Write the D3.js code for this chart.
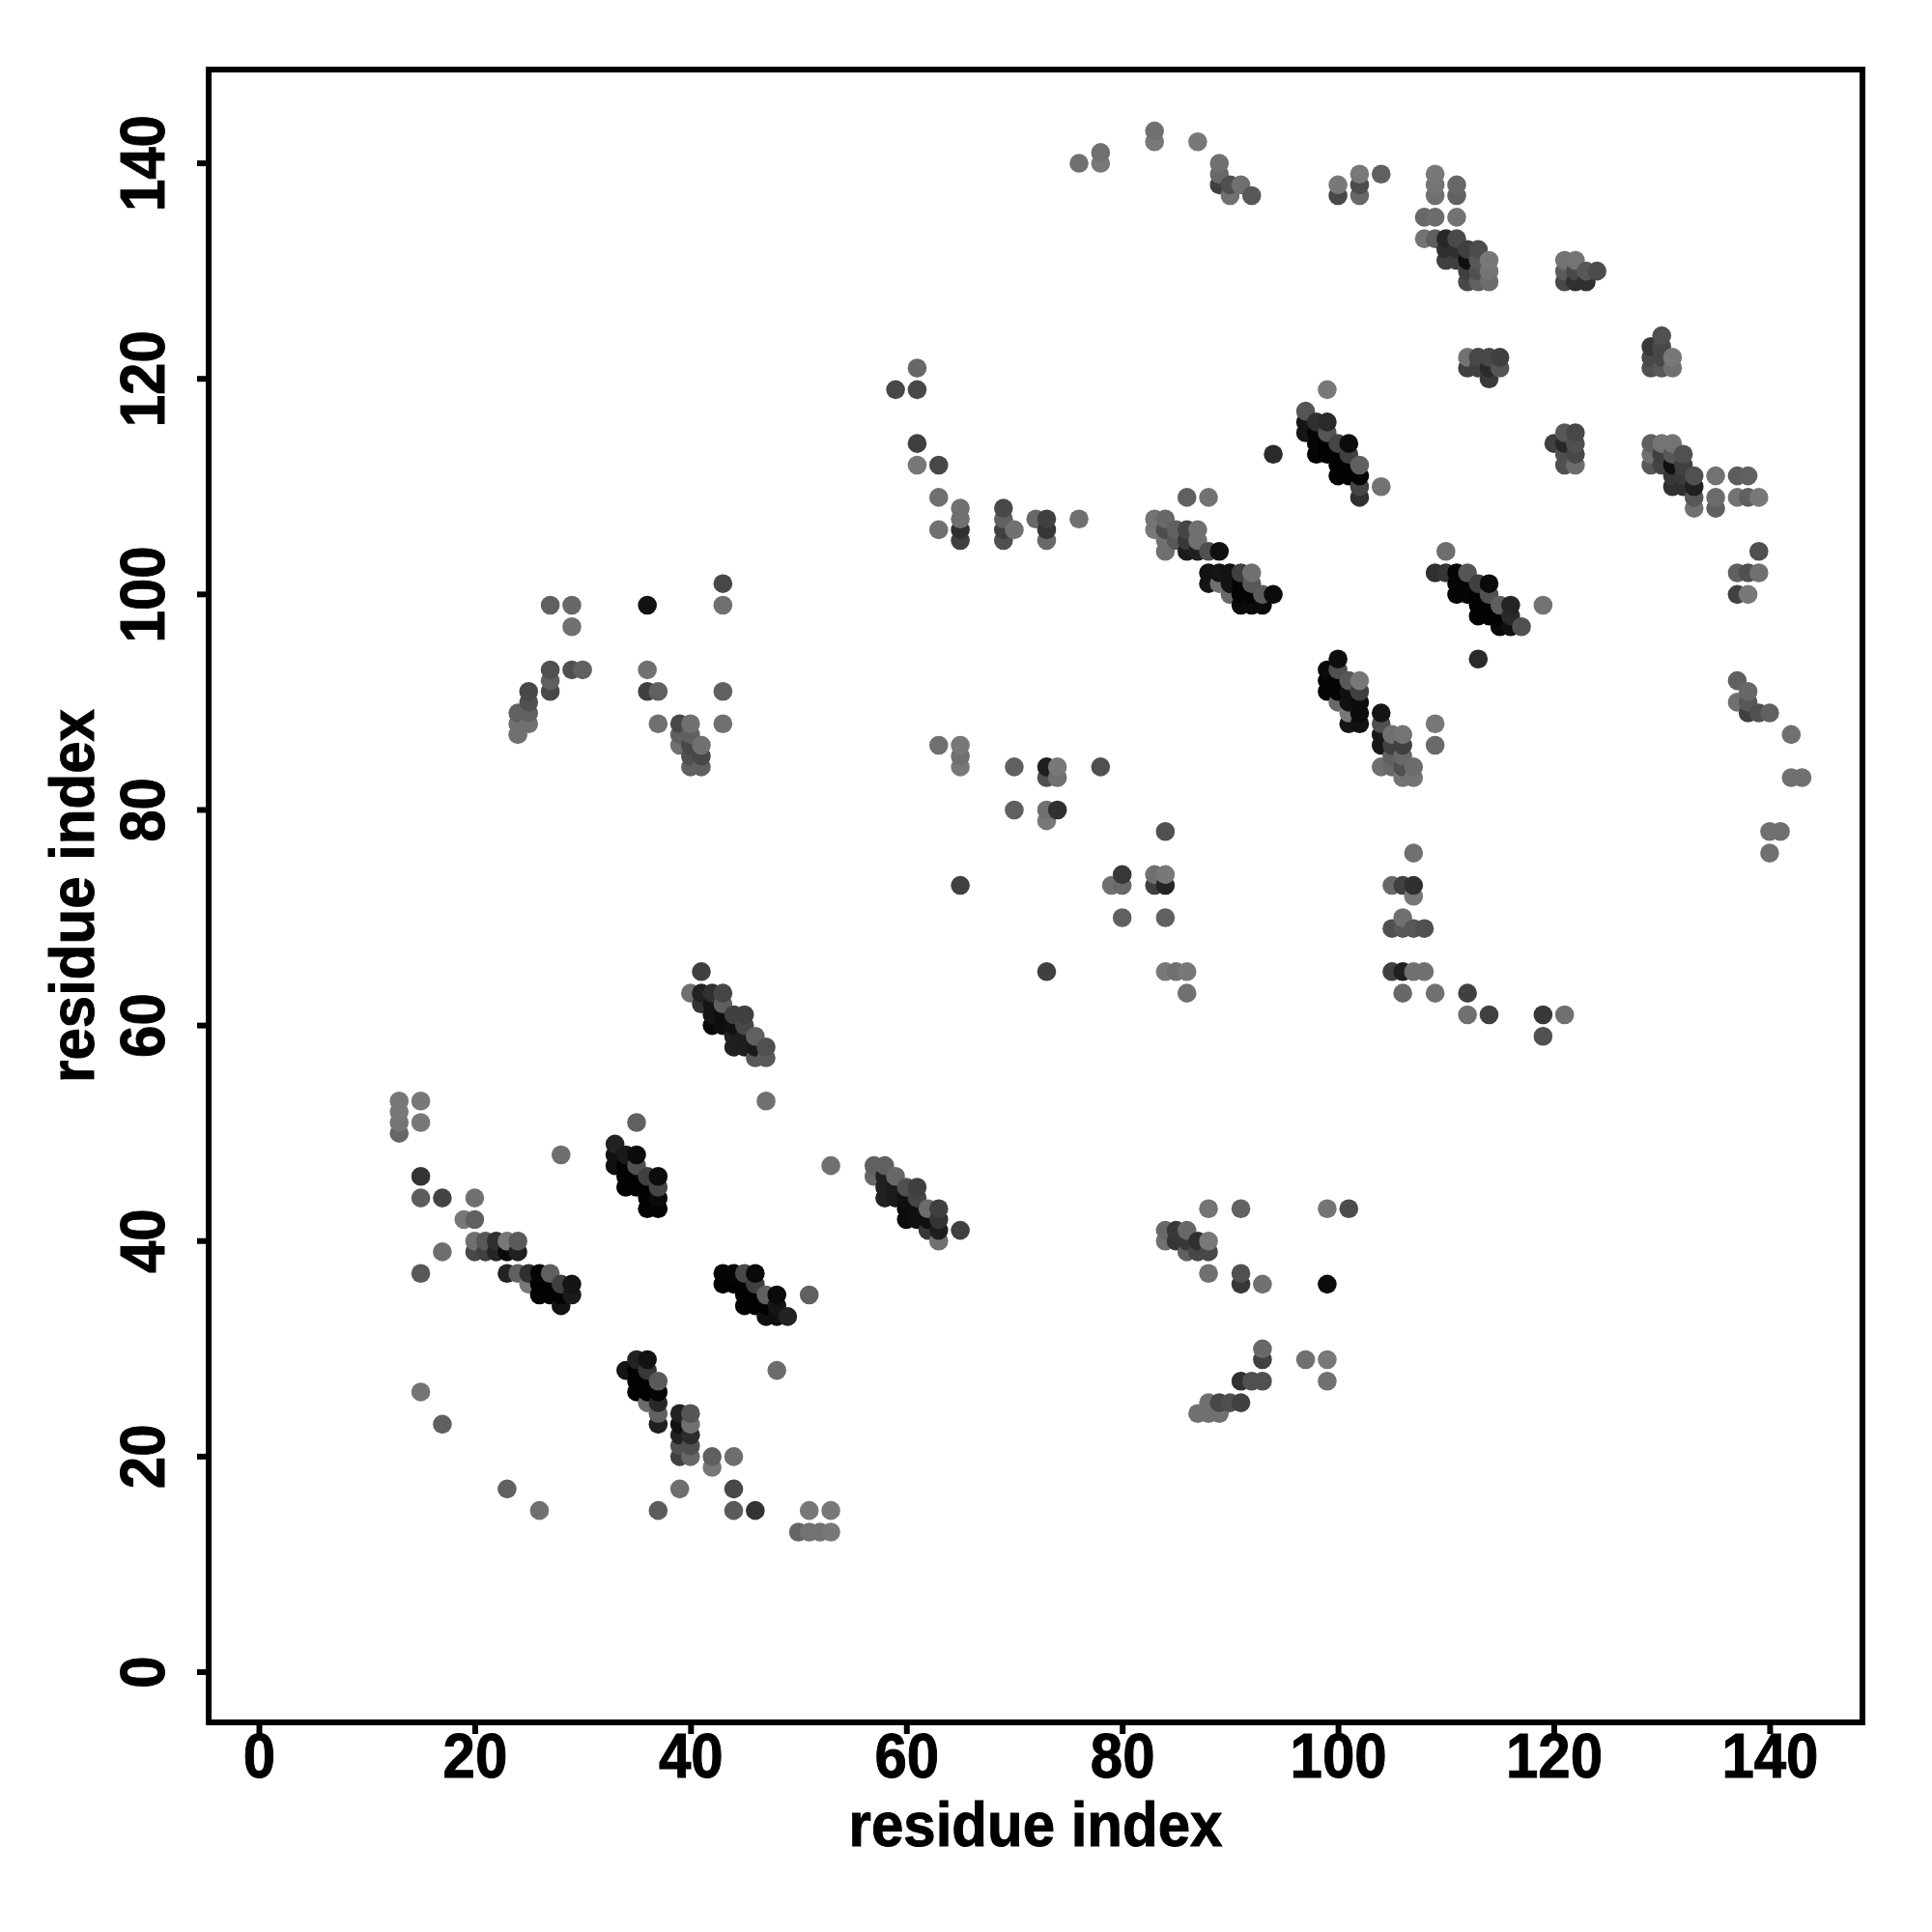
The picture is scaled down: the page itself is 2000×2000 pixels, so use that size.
<!DOCTYPE html>
<html><head><meta charset="utf-8">
<script src="https://cdnjs.cloudflare.com/ajax/libs/d3/7.8.5/d3.min.js"></script>
<style>html,body{margin:0;background:#fff}svg{display:block}</style></head>
<body><svg id="c" width="2000" height="2000"></svg>
<script>
const xTicks=[0,20,40,60,80,100,120,140];
const yTicks=[0,20,40,60,80,100,120,140];
const xLabel="residue index", yLabel="residue index";
// each row: residue i, residue j, grey level of the contact
const lowerLeft=[
[13,53,0x78],[13,52,0x78],[13,51,0x74],[13,50,0x66],[15,53,0x78],[15,51,0x78],[15,46,0x33],[15,44,0x5c],[15,37,0x58],[15,26,0x74],
[17,44,0x44],[17,39,0x6e],[17,23,0x60],[19,42,0x78],[20,44,0x70],[20,42,0x60],[20,40,0x70],[20,39,0x48],[21,40,0x58],[21,39,0x40],
[22,40,0x30],[22,39,0x25],[23,40,0x78],[23,39,0x0a],[23,37,0x22],[23,17,0x60],[24,40,0x5a],[24,39,0x20],[24,37,0x60],[25,37,0x30],[25,36,0x78],
[26,37,0x05],[26,36,0x02],[26,35,0x02],[26,15,0x70],[27,37,0x60],[27,36,0x02],[27,35,0x02],[28,48,0x6e],[28,36,0x40],[28,35,0x02],[28,34,0x12],[29,36,0x15],[29,35,0x1a]
];
const helixBlock=[
[33,49,0x22],[33,48,0x11],[33,47,0x11],[34,48,0x1a],[34,47,0x02],[34,46,0x02],[34,45,0x02],[35,51,0x60],[35,48,0x0c],[35,47,0x50],[35,46,0x02],[35,45,0x02],
[36,46,0x40],[36,45,0x02],[36,44,0x02],[36,43,0x05],[37,46,0x0c],[37,45,0x45],[37,44,0x0a],[37,43,0x05],
[34,28,0x14],[35,29,0x22],[35,28,0x02],[35,27,0x02],[35,26,0x02],[36,29,0x12],[36,28,0x38],[36,27,0x02],[36,26,0x02],[36,25,0x6c],
[37,27,0x5a],[37,26,0x05],[37,25,0x28],[37,24,0x60],[37,23,0x20],[37,15,0x5c],[39,24,0x22],[39,23,0x10],[39,22,0x22],[39,21,0x50],[39,20,0x40],[39,17,0x6e],
[40,24,0x55],[40,23,0x70],[40,22,0x2c],[40,21,0x50],[40,20,0x68],[42,20,0x60],[42,19,0x78],[44,20,0x6e],[44,17,0x48],[44,15,0x5a],[46,15,0x33],
[50,13,0x66],[51,15,0x78],[51,13,0x72],[52,13,0x72],[53,15,0x78],[53,13,0x78],
[43,37,0x05],[43,36,0x02],[44,37,0x05],[44,36,0x02],[45,37,0x48],[45,36,0x02],[45,35,0x02],[45,34,0x02],[46,37,0x0a],[46,36,0x40],[46,35,0x02],[46,34,0x02],
[47,35,0x60],[47,34,0x02],[47,33,0x10],[48,35,0x0a],[48,34,0x15],[48,33,0x10],[48,28,0x6c],[49,33,0x22],[51,35,0x60]
];
const middleBlock=[
[41,65,0x40],[40,63,0x70],[41,63,0x22],[41,62,0x33],[42,63,0x30],[42,62,0x15],[42,61,0x15],[42,60,0x08],[43,63,0x45],[43,62,0x60],[43,61,0x0e],[43,60,0x0e],
[44,61,0x40],[44,60,0x10],[44,59,0x20],[44,58,0x20],[45,61,0x40],[45,60,0x48],[45,59,0x1e],[45,58,0x1e],[46,59,0x60],[46,58,0x1a],[46,57,0x58],[47,58,0x50],[47,57,0x5a],[47,53,0x70],
[53,47,0x70],[57,47,0x60],[57,46,0x68],[58,47,0x60],[58,46,0x20],[58,45,0x22],[58,44,0x22],[59,46,0x68],[59,45,0x1a],[59,44,0x1a],[60,45,0x50],[60,44,0x10],[60,43,0x0c],[60,42,0x0c],
[61,45,0x40],[61,44,0x45],[61,43,0x10],[61,42,0x10],[62,43,0x6c],[62,42,0x10],[62,41,0x38],[63,43,0x40],[63,42,0x33],[63,41,0x1e],[63,40,0x70],[65,41,0x40],
[84,41,0x68],[84,40,0x70],[85,41,0x38],[85,40,0x35],[86,41,0x68],[86,40,0x38],[86,39,0x60],[87,40,0x30],[87,39,0x48],[88,43,0x74],[88,40,0x78],[88,39,0x48],[88,37,0x70],
[91,43,0x62],[91,37,0x50],[91,36,0x38],[93,36,0x70],[99,43,0x74],[99,36,0x0c],[101,43,0x4c],
[93,30,0x68],[93,29,0x40],[97,29,0x70],[99,29,0x78],[99,27,0x70],[91,27,0x30],[92,27,0x50],[93,27,0x50],[87,24,0x70],[88,25,0x70],[88,24,0x70],[89,25,0x48],[89,24,0x70],[90,25,0x50],[91,25,0x40]
];
const leftUpper=[
[24,89,0x60],[24,88,0x70],[24,87,0x70],[25,91,0x48],[25,90,0x50],[25,89,0x60],[25,88,0x70],[27,93,0x50],[27,92,0x60],[27,91,0x48],[27,99,0x60],[29,99,0x68],[29,97,0x70],[29,93,0x50],[30,93,0x60],
[36,99,0x12],[36,93,0x70],[36,91,0x40],[37,91,0x60],[37,88,0x70],[43,101,0x48],[43,99,0x70],[43,91,0x60],[43,88,0x70],
[39,88,0x48],[39,87,0x60],[39,86,0x70],[40,88,0x70],[40,87,0x60],[40,86,0x48],[40,85,0x50],[40,84,0x60],[41,86,0x70],[41,85,0x48],[41,84,0x60]
];
const centerScatter=[
[63,86,0x70],[65,86,0x78],[65,85,0x70],[65,84,0x78],[70,84,0x60],[73,84,0x1e],[74,84,0x78],[73,83,0x50],[74,83,0x70],[78,84,0x50],[70,80,0x60],[73,80,0x70],[74,80,0x30],[73,79,0x78],
[65,73,0x40],[79,73,0x70],[80,74,0x38],[80,73,0x68],[80,70,0x60],[83,74,0x70],[84,74,0x78],[83,73,0x40],[84,73,0x25],[84,78,0x50],[84,70,0x60],[73,65,0x40],[84,65,0x78],[85,65,0x70],[86,65,0x78],[86,63,0x70],
[105,73,0x68],[106,73,0x40],[107,73,0x30],[107,76,0x70],[107,72,0x78],[105,69,0x50],[106,70,0x70],[106,69,0x58],[107,69,0x58],[108,69,0x50],[105,65,0x40],[106,65,0x20],[107,65,0x70],[108,65,0x70],[106,63,0x68],[109,63,0x70],
[112,63,0x40],[112,61,0x70],[114,61,0x40],[119,61,0x38],[121,61,0x70],[119,59,0x50],
[100,94,0x0e],[99,93,0x0a],[100,93,0x50],[99,92,0x05],[99,91,0x05],[100,92,0x05],[100,91,0x05],[101,92,0x58],[102,92,0x78],[102,91,0x40],[101,91,0x10],[100,90,0x68],[101,90,0x10],[102,90,0x0c],[102,89,0x0c],[101,89,0x78],[101,88,0x15],[102,88,0x12],
[104,89,0x15],[104,88,0x50],[104,87,0x18],[104,86,0x18],[105,87,0x70],[106,87,0x74],[105,86,0x40],[106,86,0x40],[105,85,0x60],[106,85,0x68],[104,84,0x70],[105,84,0x68],[106,84,0x50],[107,84,0x6c],[106,83,0x74],[107,83,0x74],[109,88,0x78],[109,86,0x6a]
];
const upperMiddle=[
[59,119,0x48],[61,121,0x68],[61,119,0x48],[61,114,0x40],[61,112,0x78],[63,112,0x48],[63,109,0x70],[63,106,0x70],[65,108,0x70],[65,107,0x70],[65,106,0x30],[65,105,0x40],
[69,108,0x48],[69,107,0x60],[69,106,0x40],[69,105,0x50],[70,106,0x70],[72,107,0x68],[73,107,0x40],[73,106,0x35],[73,105,0x68],[76,107,0x70],
[86,109,0x60],[88,109,0x72],[83,107,0x74],[84,107,0x68],[83,106,0x78],[84,106,0x4c],[85,106,0x60],[84,105,0x70],[85,105,0x58],[84,104,0x70],[86,106,0x45],[87,106,0x70],[86,105,0x38],[87,105,0x70],[86,104,0x1c],[87,104,0x20],[88,104,0x50],[89,104,0x10],
[88,102,0x12],[88,101,0x15],[89,102,0x14],[89,101,0x70],[90,102,0x12],[90,101,0x12],[90,100,0x68],[91,102,0x40],[91,101,0x05],[91,100,0x05],[91,99,0x0a],[92,102,0x70],[92,101,0x58],[92,100,0x04],[92,99,0x0a],[93,100,0x5c],[93,99,0x0a],[94,100,0x0c],
[94,113,0x2a],[97,117,0x55],[97,116,0x15],[97,115,0x15],[98,116,0x30],[98,115,0x05],[98,114,0x05],[98,113,0x05],[99,119,0x78],[99,116,0x2a],[99,115,0x55],[99,114,0x02],[99,113,0x02],
[100,114,0x45],[100,113,0x02],[100,112,0x02],[100,111,0x02],[101,114,0x0c],[101,113,0x40],[101,112,0x02],[101,111,0x02],[102,112,0x60],[102,111,0x05],[102,110,0x45],[102,109,0x30],[104,110,0x72],
[110,104,0x6e],[109,102,0x30],[110,102,0x35],[111,102,0x05],[111,101,0x05],[111,100,0x05],[112,102,0x55],[112,101,0x05],[112,100,0x05],[113,101,0x40],[113,100,0x02],[113,99,0x02],[113,98,0x02],[113,94,0x2a],
[114,101,0x0a],[114,100,0x50],[114,99,0x02],[114,98,0x02],[115,99,0x5e],[115,98,0x02],[115,97,0x08],[116,99,0x25],[116,98,0x2a],[116,97,0x10],[117,97,0x50],[119,99,0x72]
];
const topArc=[
[76,140,0x70],[78,141,0x70],[78,140,0x78],[83,143,0x70],[83,142,0x78],[87,142,0x78],[89,140,0x70],[89,139,0x68],[89,138,0x40],[90,138,0x50],[90,137,0x70],[91,138,0x70],[92,137,0x58],
[100,138,0x78],[100,137,0x48],[102,139,0x78],[102,138,0x4c],[102,137,0x68],[104,139,0x60],[109,139,0x78],[109,138,0x74],[109,137,0x70],[111,138,0x68],[111,137,0x62],[108,135,0x68],[109,135,0x6c],[111,135,0x72],
[108,133,0x74],[109,133,0x60],[110,133,0x28],[111,133,0x4a],[110,132,0x30],[111,132,0x30],[110,131,0x40],[111,131,0x40],[112,132,0x40],[113,132,0x4c],[112,131,0x10],[113,131,0x58],[114,131,0x78],[114,130,0x74],[112,130,0x40],[113,130,0x50],[112,129,0x48],[113,129,0x60],[114,129,0x6c],
[121,131,0x72],[122,131,0x74],[121,130,0x5a],[122,130,0x48],[123,130,0x58],[124,130,0x4c],[121,129,0x48],[122,129,0x30],[123,129,0x30],
[112,122,0x72],[113,122,0x48],[114,122,0x48],[115,122,0x40],[112,121,0x40],[113,121,0x40],[114,121,0x2a],[115,121,0x55],[114,120,0x3a]
];
const rightSide=[
[120,114,0x40],[121,115,0x58],[122,115,0x48],[121,114,0x28],[122,114,0x50],[121,113,0x50],[122,113,0x48],[121,112,0x50],[122,112,0x6c],
[130,124,0x50],[129,123,0x38],[130,123,0x48],[129,122,0x48],[130,122,0x48],[131,122,0x78],[129,121,0x50],[130,121,0x58],[131,121,0x70],
[129,114,0x60],[130,114,0x74],[131,114,0x74],[129,113,0x70],[130,113,0x40],[131,113,0x58],[132,113,0x50],[129,112,0x58],[130,112,0x45],[131,112,0x10],[132,112,0x40],[131,111,0x38],[132,111,0x3a],[133,111,0x50],[131,110,0x30],[132,110,0x30],[133,110,0x20],[133,109,0x58],[133,108,0x70],
[135,111,0x72],[135,109,0x6c],[135,108,0x60],[137,111,0x5c],[138,111,0x60],[137,109,0x74],[138,109,0x60],[139,109,0x78],
[137,102,0x60],[138,102,0x50],[139,102,0x70],[139,104,0x50],[137,100,0x40],[138,100,0x78],[137,92,0x60],[137,90,0x70],[138,91,0x68],[138,90,0x58],[138,89,0x40],[139,89,0x50],[140,89,0x60],[142,87,0x70],[142,83,0x70],[143,83,0x70],[140,78,0x70],[141,78,0x70],[140,76,0x70]
];

const contacts=[...lowerLeft,...helixBlock,...middleBlock,...leftUpper,...centerScatter,...upperMiddle,...topArc,...rightSide]
  .sort((a,b)=>a[0]-b[0]||a[1]-b[1]);

const L=216,R=1928,T=72,B=1783;
const x=d3.scaleLinear().domain([-4.655,148.6]).range([L,R]);
const y=d3.scaleLinear().domain([-4.66,148.7]).range([B,T]);
const svg=d3.select("#c");
const FONT='"Liberation Sans",Arial,sans-serif';
const SIZE="60px";

svg.append("g").selectAll("circle").data(contacts).join("circle")
  .attr("cx",d=>x(d[0])).attr("cy",d=>y(d[1])).attr("r",9.8)
  .attr("fill",d=>d3.rgb(d[2],d[2],d[2]).formatHex());

svg.append("rect").attr("x",L).attr("y",T).attr("width",R-L).attr("height",B-T)
  .attr("fill","none").attr("stroke","#000").attr("stroke-width",6);

const gx=svg.append("g").attr("transform",`translate(0,${B})`)
  .call(d3.axisBottom(x).tickValues(xTicks).tickSize(12));
const gy=svg.append("g").attr("transform",`translate(${L},0)`)
  .call(d3.axisLeft(y).tickValues(yTicks).tickSize(12));
[gx,gy].forEach(g=>{
  g.select(".domain").remove();
  g.selectAll("line").attr("stroke","#000").attr("stroke-width",6);
  g.selectAll("text").attr("fill","#000").attr("stroke","#000").attr("stroke-width",0.9)
    .style("font-family",FONT).style("font-weight","bold").style("font-size",SIZE);
});
gx.selectAll("text").attr("y",null).attr("dy",null).attr("text-anchor","middle")
  .attr("transform",`translate(0,${1840-B}) scale(1,1.08)`);
gy.selectAll("text")
  .attr("x",null).attr("y",null).attr("dy",null).attr("text-anchor","middle")
  .attr("transform",d=>`translate(${170-L},${y(d)}) rotate(-90) scale(1,1.08)`);
gy.selectAll(".tick").attr("transform","translate(0,0)");
gy.selectAll(".tick line").attr("y1",d=>y(d)).attr("y2",d=>y(d));

svg.append("text").attr("transform",`translate(${(L+R)/2},1911) scale(1,1.08)`).attr("text-anchor","middle")
  .attr("stroke","#000").attr("stroke-width",0.9)
  .style("font-family",FONT).style("font-weight","bold").style("font-size",SIZE).text(xLabel);
svg.append("text").attr("transform",`translate(97,${(T+B)/2}) rotate(-90) scale(1,1.08)`).attr("text-anchor","middle")
  .attr("stroke","#000").attr("stroke-width",0.9)
  .style("font-family",FONT).style("font-weight","bold").style("font-size",SIZE).text(yLabel);
</script></body></html>
